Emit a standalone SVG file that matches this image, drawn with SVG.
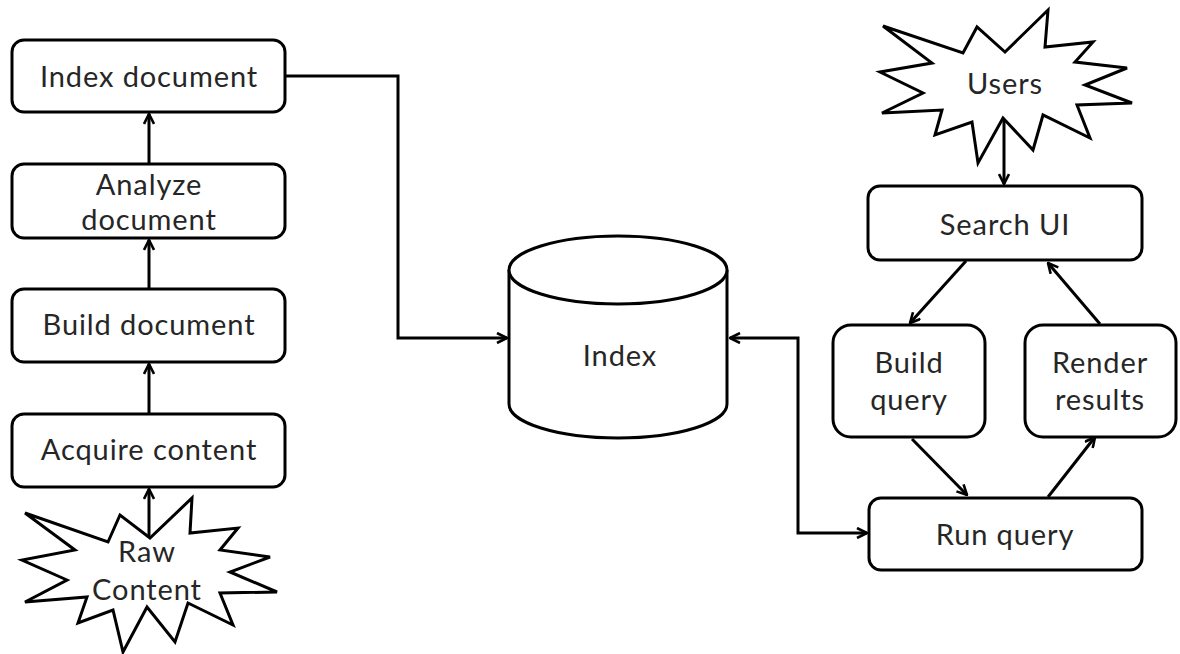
<svg xmlns="http://www.w3.org/2000/svg" width="1180" height="654" viewBox="0 0 1180 654">
  <style>
    .box { fill: #ffffff; stroke: #000000; stroke-width: 3; }
    .burst { fill: #ffffff; stroke: #000000; stroke-width: 3; stroke-linejoin: miter; }
    .link { fill: none; stroke: #000000; stroke-width: 3; }
    .label { font-family: "Lato", "Liberation Sans", sans-serif; font-size: 29px; letter-spacing: 0.9px; fill: #262626; text-anchor: middle; }
  </style>
  <defs>
    <marker id="arrow" viewBox="0 0 12 12" refX="11" refY="6" markerWidth="12" markerHeight="12" markerUnits="userSpaceOnUse" orient="auto-start-reverse">
      <path d="M1,1 L11,6 L1,11" fill="none" stroke="#000000" stroke-width="2.6"/>
    </marker>
  </defs>
  <rect width="1180" height="654" fill="#ffffff"/>

  <!-- connectors -->
  <g id="connectors">
    <line class="link" x1="149" y1="163" x2="149" y2="114" marker-end="url(#arrow)"/>
    <line class="link" x1="149" y1="288" x2="149" y2="240" marker-end="url(#arrow)"/>
    <line class="link" x1="149" y1="413" x2="149" y2="364" marker-end="url(#arrow)"/>
    <line class="link" x1="149" y1="537" x2="149" y2="489" marker-end="url(#arrow)"/>
    <polyline class="link" points="285,76 398,76 398,338 507,338" marker-end="url(#arrow)"/>
    <polyline class="link" points="730,338 798,338 798,533 867,533" marker-start="url(#arrow)" marker-end="url(#arrow)"/>
    <line class="link" x1="1004" y1="118" x2="1004" y2="184" marker-end="url(#arrow)"/>
    <line class="link" x1="966" y1="261" x2="910" y2="323" marker-end="url(#arrow)"/>
    <line class="link" x1="1100" y1="324" x2="1048" y2="263" marker-end="url(#arrow)"/>
    <line class="link" x1="912" y1="439" x2="967" y2="495" marker-end="url(#arrow)"/>
    <line class="link" x1="1048" y1="497" x2="1095" y2="437" marker-end="url(#arrow)"/>
  </g>

  <!-- indexing pipeline -->
  <g id="index-document">
    <rect class="box" x="12" y="40" width="273" height="72" rx="12"/>
    <text class="label" x="149" y="87">Index document</text>
  </g>
  <g id="analyze-document">
    <rect class="box" x="12" y="164" width="273" height="74" rx="12"/>
    <text class="label" x="149" y="195">Analyze</text>
    <text class="label" x="149" y="230">document</text>
  </g>
  <g id="build-document">
    <rect class="box" x="12" y="289" width="273" height="73" rx="12"/>
    <text class="label" x="149" y="335">Build document</text>
  </g>
  <g id="acquire-content">
    <rect class="box" x="12" y="414" width="273" height="73" rx="12"/>
    <text class="label" x="149" y="460">Acquire content</text>
  </g>
  <g id="raw-content">
    <polygon class="burst" points="25,513 108,542 120,515 150,538 192,498 190,533 238,528 220,550 270,557 230,572 277,592 220,593 233,625 188,603 175,642 147,607 123,652 113,610 78,623 87,597 25,602 67,580 22,560 75,550"/>
    <text class="label" x="147" y="562">Raw</text>
    <text class="label" x="147" y="600">Content</text>
  </g>

  <!-- index store -->
  <g id="index">
    <path class="box" d="M509,270 L509,404 A109,34 0 0 0 727,404 L727,270"/>
    <ellipse class="box" cx="618" cy="270" rx="109" ry="34"/>
    <text class="label" x="620" y="366">Index</text>
  </g>

  <!-- search side -->
  <g id="users">
    <polygon class="burst" points="883,26 963,53 977,27 1005,52 1048,10 1045,47 1093,42 1075,62 1127,68 1085,85 1132,103 1077,105 1090,138 1043,115 1033,150 1003,118 978,163 972,122 935,135 942,110 882,113 923,93 880,72 932,63"/>
    <text class="label" x="1005" y="94">Users</text>
  </g>
  <g id="search-ui">
    <rect class="box" x="868" y="186" width="274" height="74" rx="12"/>
    <text class="label" x="1005" y="235">Search UI</text>
  </g>
  <g id="build-query">
    <rect class="box" x="833" y="325" width="152" height="112" rx="18"/>
    <text class="label" x="909" y="373">Build</text>
    <text class="label" x="909" y="410">query</text>
  </g>
  <g id="render-results">
    <rect class="box" x="1025" y="325" width="151" height="112" rx="18"/>
    <text class="label" x="1100" y="373">Render</text>
    <text class="label" x="1100" y="410">results</text>
  </g>
  <g id="run-query">
    <rect class="box" x="869" y="498" width="273" height="72" rx="12"/>
    <text class="label" x="1005" y="545">Run query</text>
  </g>
</svg>
